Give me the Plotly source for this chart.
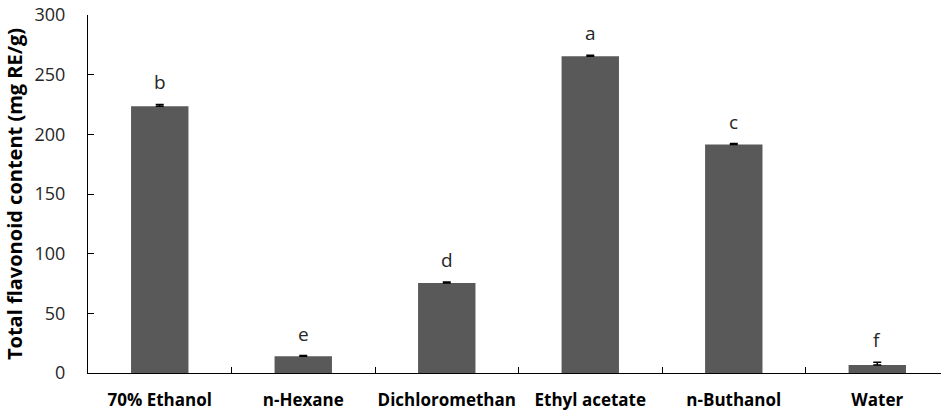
import plotly.graph_objects as go

categories = ["70% Ethanol", "n-Hexane", "Dichloromethan", "Ethyl acetate", "n-Buthanol", "Water"]
values = [223.5, 14.0, 75.5, 265.5, 191.5, 6.8]
errors = [1.6, 0.6, 0.8, 0.8, 0.8, 2.3]
letters = ["b", "e", "d", "a", "c", "f"]
y_ticks = [0, 50, 100, 150, 200, 250, 300]

FONT = "Open Sans"

fig = go.Figure()
fig.add_trace(go.Bar(
    x=categories, y=values,
    marker=dict(color="#595959", line=dict(width=0)),
    width=0.4,
    error_y=dict(type="data", array=errors, symmetric=False, arrayminus=[0]*len(errors),
                 color="black", thickness=1.5, width=4),
))

for c, v, e, l in zip(categories, values, errors, letters):
    fig.add_annotation(x=c, y=v + e, text=l, showarrow=False, yanchor="bottom",
                       yshift=7, font=dict(family=FONT, size=19, color="#262626"))

fig.update_layout(
    width=941, height=412,
    margin=dict(l=88, r=0, t=15, b=39, autoexpand=False),
    plot_bgcolor="white", paper_bgcolor="white",
    showlegend=False,
)
fig.update_xaxes(
    range=[-0.5, 5.444], automargin=False,
    showline=True, linecolor="black", linewidth=1.2,
    ticks="inside", tickson="boundaries", ticklen=6, tickcolor="black",
    tickfont=dict(family=FONT, size=17, color="black", weight="bold"),
    tickangle=0, ticklabeloverflow="allow",
    ticklabelstandoff=11,
)
fig.update_yaxes(
    range=[0, 300], tickvals=y_ticks, automargin=False,
    showline=True, linecolor="black", linewidth=1.2, showgrid=False,
    ticks="inside", ticklen=6, tickcolor="black",
    tickfont=dict(family=FONT, size=18, color="#262626"),
    ticklabelstandoff=18, ticklabeloverflow="allow",
    title=dict(text="Total flavonoid content (mg RE/g)", standoff=6,
               font=dict(family=FONT, size=20, color="black", weight="bold")),
    zeroline=False,
)

fig.write_html("out.html", config={"displayModeBar": False},
               post_script="document.body.style.margin='0';")
